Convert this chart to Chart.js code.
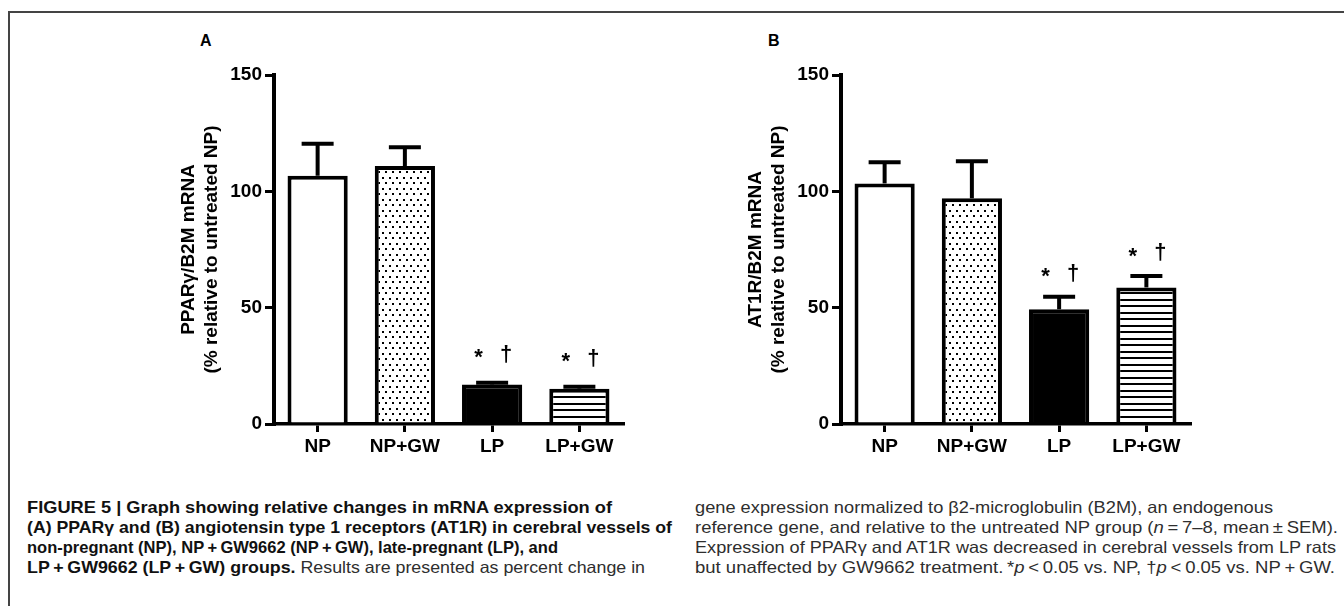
<!DOCTYPE html>
<html><head><meta charset="utf-8">
<script src="https://cdn.jsdelivr.net/npm/chart.js@4.4.0/dist/chart.umd.min.js"></script>
<style>
html,body{margin:0;padding:0;background:#fff;}
body{width:1344px;height:606px;position:relative;overflow:hidden;font-family:"Liberation Sans",Arial,sans-serif;}
#frame{position:absolute;left:8px;top:11px;width:1400px;height:700px;border-left:2px solid #444;border-top:2px solid #444;}
.cv{position:absolute;top:0;width:500px;height:470px;}
.panel{position:absolute;font:bold 16px/16px "Liberation Sans",Arial,sans-serif;color:#000;}
.cap{position:absolute;white-space:nowrap;font-family:"Liberation Sans",Arial,sans-serif;font-size:16.5px;line-height:20px;color:#111;transform-origin:0 50%;}
.b{font-weight:bold;}
.l{font-weight:normal;color:#2e2e2e;}
</style></head>
<body>
<div id="frame"></div>
<div class="panel" style="left:200px;top:33px">A</div>
<div class="panel" style="left:768px;top:33px">B</div>
<div class="cv" style="left:150px"><canvas id="cA" width="500" height="470"></canvas></div>
<div class="cv" style="left:717px"><canvas id="cB" width="500" height="470"></canvas></div>

<div class="cap b" data-w="585" style="left:27px;top:497px">FIGURE 5 | Graph showing relative changes in mRNA expression of</div>
<div class="cap b" data-w="645" style="left:27px;top:517px">(A) PPARγ and (B) angiotensin type 1 receptors (AT1R) in cerebral vessels of</div>
<div class="cap b" data-w="531" style="left:27px;top:537px">non-pregnant (NP), NP&#8201;+&#8201;GW9662 (NP&#8201;+&#8201;GW), late-pregnant (LP), and</div>
<div class="cap" data-w="618" style="left:27px;top:557px"><span class="b">LP&#8201;+&#8201;GW9662 (LP&#8201;+&#8201;GW) groups.</span> <span class="l">Results are presented as percent change in</span></div>

<div class="cap l" data-w="578" style="left:695px;top:497px">gene expression normalized to β2-microglobulin (B2M), an endogenous</div>
<div class="cap l" data-w="643" style="left:695px;top:517px">reference gene, and relative to the untreated NP group (<i>n</i>&#8201;=&#8201;7–8, mean&#8201;±&#8201;SEM).</div>
<div class="cap l" data-w="641" style="left:695px;top:537px">Expression of PPARγ and AT1R was decreased in cerebral vessels from LP rats</div>
<div class="cap l" data-w="640" style="left:695px;top:557px">but unaffected by GW9662 treatment.&#8201;*<i>p</i>&#8201;&lt;&#8201;0.05 vs. NP, †<i>p</i>&#8201;&lt;&#8201;0.05 vs. NP&#8201;+&#8201;GW.</div>

<script>
// ---- data ----
const categories = ['NP', 'NP+GW', 'LP', 'LP+GW'];
const pparValues = [106.7, 110.9, 17.0, 15.2];
const pparErrors = [13.7, 8.0, 0.7, 0.8];
const at1rValues = [103.4, 97.0, 49.3, 58.7];
const at1rErrors = [9.1, 15.9, 5.4, 4.9];
const significance = ['', '', '*', '*'];
const daggers = ['', '', '†', '†'];
const yTicks = [0, 50, 100, 150];
const yTitleA = ['PPARγ/B2M mRNA', '(% relative to untreated NP)'];
const yTitleB = ['AT1R/B2M mRNA', '(% relative to untreated NP)'];

// ---- caption line fitting ----
document.querySelectorAll('.cap').forEach(el => {
  const w = el.getBoundingClientRect().width;
  const t = parseFloat(el.dataset.w);
  if (w > 0) el.style.transform = 'scaleX(' + (t / w) + ')';
});

// ---- fills ----
function dotPattern() {
  const c = document.createElement('canvas'); c.width = 7; c.height = 11;
  const g = c.getContext('2d');
  g.fillStyle = '#fff'; g.fillRect(0, 0, 7, 11);
  g.fillStyle = '#000'; g.fillRect(1, 1, 2, 2); g.fillRect(4, 6, 2, 2);
  return g.createPattern(c, 'repeat');
}
function stripePattern() {
  const c = document.createElement('canvas'); c.width = 4; c.height = 13;
  const g = c.getContext('2d');
  g.fillStyle = '#fff'; g.fillRect(0, 0, 4, 13);
  g.fillStyle = '#000'; g.fillRect(0, 0, 4, 2); g.fillRect(0, 6, 4, 2);
  return g.createPattern(c, 'repeat');
}

const FONT = '"Liberation Sans", Arial, sans-serif';

const errPlugin = {
  id: 'errbars',
  afterDatasetsDraw(chart, args, opts) {
    const ctx = chart.ctx, y = chart.scales.y;
    const meta = chart.getDatasetMeta(0);
    const vals = chart.data.datasets[0].data;
    ctx.save();
    ctx.strokeStyle = '#000'; ctx.lineWidth = 4; ctx.lineCap = 'butt';
    meta.data.forEach((bar, i) => {
      const yt = y.getPixelForValue(vals[i] + opts.errors[i]);
      ctx.beginPath(); ctx.moveTo(bar.x, bar.y); ctx.lineTo(bar.x, yt); ctx.stroke();
      ctx.beginPath(); ctx.moveTo(bar.x - 16, yt); ctx.lineTo(bar.x + 16, yt); ctx.stroke();
      const cy = yt - opts.gap;
      ctx.fillStyle = '#000';
      ctx.font = 'bold 22px ' + FONT;
      ctx.textAlign = 'center'; ctx.textBaseline = 'alphabetic';
      [[significance[i], bar.x - 13.5], [daggers[i], bar.x + 14]].forEach(([t, x]) => {
        if (!t) return;
        const m = ctx.measureText(t);
        const base = cy + (m.actualBoundingBoxAscent - m.actualBoundingBoxDescent) / 2;
        ctx.fillText(t, x, base);
      });
    });
    ctx.restore();
  }
};

function makeChart(id, values, errors, title, gap) {
  const fills = ['#ffffff', dotPattern(), '#000000', stripePattern()];
  return new Chart(document.getElementById(id), {
    type: 'bar',
    data: {
      labels: categories,
      datasets: [{
        data: values,
        backgroundColor: fills,
        borderColor: '#000',
        borderWidth: 4,
        borderSkipped: 'start',
        categoryPercentage: 1,
        barPercentage: 0.69
      }]
    },
    options: {
      responsive: false,
      animation: false,
      devicePixelRatio: 1,
      layout: { padding: { top: 75, right: 27, left: 0, bottom: 0 } },
      plugins: {
        legend: { display: false },
        tooltip: { enabled: false },
        errbars: { errors: errors, gap: gap }
      },
      scales: {
        x: {
          offset: true,
          grid: { offset: false, drawOnChartArea: false, drawTicks: true, tickLength: 8, lineWidth: 3, color: '#000' },
          border: { display: true, width: 3.5, color: '#000' },
          ticks: { color: '#000', padding: 3, font: { family: FONT, size: 19, weight: 'bold' }, maxRotation: 0 },
          afterFit: s => { s.height = 46; }
        },
        y: {
          min: 0, max: 150,
          afterBuildTicks: s => { s.ticks = yTicks.map(v => ({ value: v })); },
          grid: { drawOnChartArea: false, drawTicks: true, tickLength: 9, lineWidth: 3, color: '#000' },
          border: { display: true, width: 4, color: '#000' },
          ticks: { color: '#000', padding: 3, font: { family: FONT, size: 19, weight: 'bold' } },
          title: {
            display: true, text: title, color: '#000',
            font: { family: FONT, size: 19, weight: 'bold', lineHeight: 1.2 },
            padding: { top: 27.6, bottom: 0 }
          },
          afterFit: s => { s.width = 124; }
        }
      }
    },
    plugins: [errPlugin]
  });
}

makeChart('cA', pparValues, pparErrors, yTitleA, 29);
makeChart('cB', at1rValues, at1rErrors, yTitleB, 24);
</script>
</body></html>
